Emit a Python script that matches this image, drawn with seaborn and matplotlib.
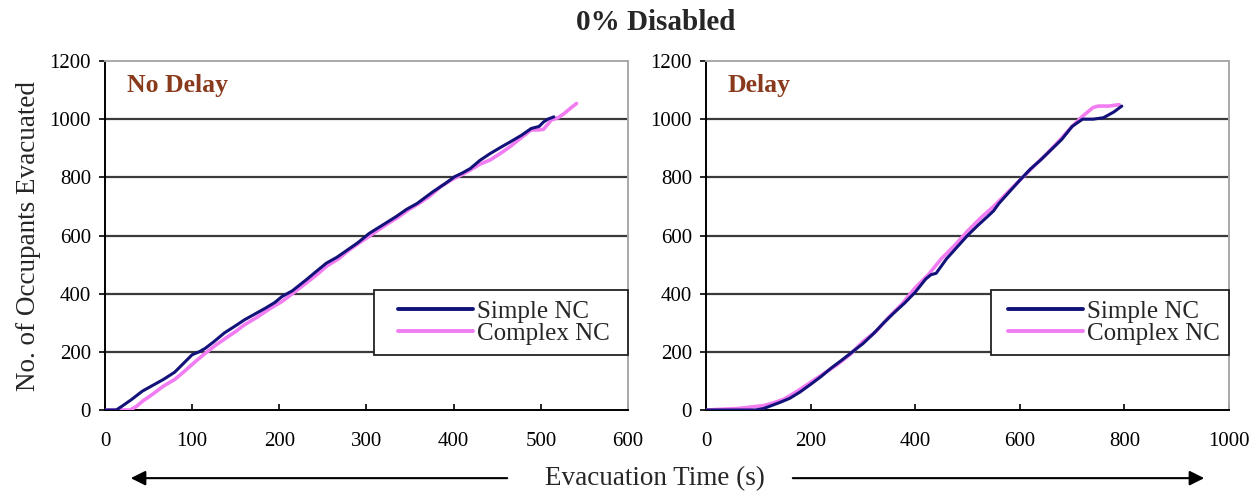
import matplotlib
matplotlib.use("Agg")
import matplotlib.pyplot as plt
import matplotlib.patches as mpatches
import seaborn as sns
import pandas as pd

# ---------------- data ----------------
nd_simple_t = [0, 13, 20, 30, 43, 55, 67, 80, 90, 100, 108, 115, 125, 137, 150, 160, 172, 184, 195, 203,
               215, 231, 243, 254, 266, 278, 290, 303, 318, 334, 346, 358, 376, 390, 401, 410, 419, 430,
               442, 455, 465, 478, 489, 498, 503, 508, 515]
nd_simple_y = [0, 0, 14, 35, 65, 85, 105, 130, 160, 190, 200, 212, 235, 265, 290, 310, 330, 350, 370, 390,
               410, 448, 478, 505, 525, 550, 575, 607, 635, 665, 690, 710, 750, 778, 802, 815, 830, 858,
               882, 905, 922, 945, 968, 975, 990, 1000, 1008]

nd_complex_t = [0, 20, 29, 36, 43, 55, 67, 80, 90, 102, 115, 128, 140, 150, 160, 175, 190, 203, 215, 231,
                243, 254, 268, 280, 292, 303, 315, 325, 336, 348, 360, 372, 386, 401, 410, 419, 430, 442,
                455, 465, 477, 489, 497, 503, 512, 520, 527, 535, 541]
nd_complex_y = [0, 0, 0, 12, 30, 55, 82, 105, 130, 162, 195, 225, 250, 270, 293, 320, 350, 373, 400, 437,
                465, 494, 520, 550, 575, 597, 622, 642, 662, 688, 710, 734, 770, 797, 810, 825, 845, 860,
                885, 906, 935, 963, 963, 965, 997, 1005, 1020, 1040, 1054]

d_simple_t = [0, 95, 110, 125, 140, 160, 180, 200, 220, 240, 260, 280, 300, 320, 340, 360, 380, 400, 420,
              430, 440, 460, 480, 500, 520, 540, 550, 560, 580, 600, 620, 640, 660, 680, 700, 720, 740,
              760, 780, 795]
d_simple_y = [0, 0, 5, 15, 25, 40, 62, 88, 115, 145, 172, 200, 228, 262, 300, 335, 368, 405, 450,
              465, 470, 520, 560, 600, 635, 668, 685, 710, 750, 790, 828, 860, 895, 930, 975, 1000, 1000,
              1005, 1025, 1045]

d_complex_t = [0, 60, 110, 130, 150, 175, 200, 225, 250, 275, 300, 325, 350, 375, 400, 425, 450, 475, 500,
               525, 550, 575, 600, 625, 650, 675, 700, 720, 740, 750, 770, 790]
d_complex_y = [0, 5, 15, 25, 38, 65, 95, 125, 155, 190, 235, 270, 320, 365, 420, 465, 520, 565, 615,
               660, 700, 745, 790, 835, 878, 925, 975, 1010, 1040, 1045, 1045, 1050]

series_names = ["Simple NC", "Complex NC"]
panel_titles = ["No Delay", "Delay"]
x_limits = [600, 1000]
x_ticks = [[0, 100, 200, 300, 400, 500, 600], [0, 200, 400, 600, 800, 1000]]
y_ticks = [0, 200, 400, 600, 800, 1000, 1200]

# ---------------- style ----------------
sns.set_theme(style="white")
plt.rcParams["font.family"] = ["Liberation Serif", "DejaVu Serif"]

palette = {"Simple NC": "#12127a", "Complex NC": "#f27cf2"}
widths = {"Simple NC": 2.2, "Complex NC": 2.6}

fig = plt.figure(figsize=(12.6, 4.96), dpi=100)
ax1 = fig.add_axes([0.0833, 0.1734, 0.4151, 0.7036])
ax2 = fig.add_axes([0.5603, 0.1734, 0.4151, 0.7036])

panels = [
    (ax1, nd_simple_t, nd_simple_y, nd_complex_t, nd_complex_y),
    (ax2, d_simple_t, d_simple_y, d_complex_t, d_complex_y),
]
box_left = [0.514, 0.545]
handle_left = [0.560, 0.577]
box_bottom, box_top = 0.157, 0.344

for i, (ax, st, sy, ct, cy) in enumerate(panels):
    df = pd.concat([
        pd.DataFrame({"t": st, "n": sy, "Series": series_names[0]}),
        pd.DataFrame({"t": ct, "n": cy, "Series": series_names[1]}),
    ])
    for name in series_names:
        sub = df[df["Series"] == name]
        sns.lineplot(data=sub, x="t", y="n", color=palette[name], lw=widths[name],
                     sort=False, estimator=None, ax=ax, label=name,
                     zorder=3 if name == "Complex NC" else 4)
    ax.set_xlim(0, x_limits[i])
    ax.set_ylim(0, 1200)
    ax.set_xticks(x_ticks[i])
    ax.set_yticks(y_ticks)
    ax.set_xlabel("")
    ax.set_ylabel("")
    for yv in [200, 400, 600, 800, 1000]:
        ax.axhline(yv, color="#3a3a3a", lw=1.6, zorder=1)
    for s in ["left", "bottom"]:
        ax.spines[s].set_color("black")
        ax.spines[s].set_linewidth(1.4)
    for s in ["top", "right"]:
        ax.spines[s].set_color("#a8a8a8")
        ax.spines[s].set_linewidth(1.4)
    ax.tick_params(axis="x", direction="in", length=4, width=1.2, pad=16, labelsize=15,
                   bottom=True, colors="black")
    ax.tick_params(axis="y", direction="out", length=4, width=1.2, pad=6, labelsize=15,
                   left=True, colors="black")
    ax.text(0.042, 0.93, panel_titles[i], transform=ax.transAxes, fontsize=18.5,
            fontweight="bold", color="#8a3a1c", ha="left", va="center")

    # legend box (frame drawn as a rectangle so the inner padding matches)
    rect = mpatches.Rectangle((box_left[i], box_bottom), 1.0 - box_left[i], box_top - box_bottom,
                              transform=ax.transAxes, facecolor="white", edgecolor="#222222",
                              lw=1.3, zorder=8, clip_on=False)
    ax.add_patch(rect)
    leg = ax.legend(loc="center left", bbox_to_anchor=(handle_left[i], (box_bottom + box_top) / 2),
                    borderaxespad=0, fontsize=18, frameon=False,
                    handlelength=3.0, handletextpad=0.15, labelspacing=0.0, borderpad=0.0)
    leg.set_zorder(9)
    for line in leg.get_lines():
        line.set_linewidth(2.8)

ax1.set_ylabel("No. of Occupants Evacuated", fontsize=19.5, labelpad=6)

fig.text(0.52, 0.955, "0% Disabled", fontsize=21, fontweight="bold", ha="center", va="center")
fig.text(0.52, 0.036, "Evacuation Time (s)", fontsize=19.5, ha="center", va="center")

arrow_y = 0.036
fig.add_artist(mpatches.FancyArrowPatch((510 / 1260, arrow_y), (128 / 1260, arrow_y),
                                        transform=fig.transFigure, arrowstyle="-|>",
                                        mutation_scale=22, lw=1.5, color="black"))
fig.add_artist(mpatches.FancyArrowPatch((790 / 1260, arrow_y), (1207 / 1260, arrow_y),
                                        transform=fig.transFigure, arrowstyle="-|>",
                                        mutation_scale=22, lw=1.5, color="black"))

fig.savefig("out.png", dpi=100, facecolor="white")
